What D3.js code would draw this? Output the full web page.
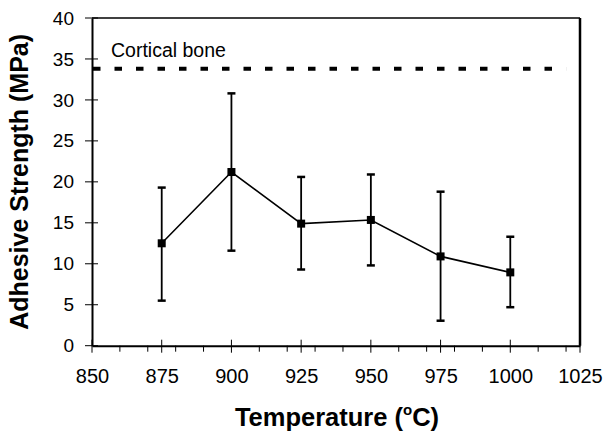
<!DOCTYPE html>
<html><head><meta charset="utf-8">
<script src="https://cdn.jsdelivr.net/npm/d3@7"></script>
<style>body{margin:0;background:#fff}svg{display:block}</style>
</head><body>
<svg id="c" width="605" height="436"></svg>
<script>
const temps = [875, 900, 925, 950, 975, 1000];
const strength = [12.5, 21.2, 14.9, 15.35, 10.9, 8.95];
const errHigh = [19.3, 30.8, 20.6, 20.9, 18.8, 13.3];
const errLow = [5.5, 11.6, 9.3, 9.8, 3.05, 4.7];
const xTicks = [850, 875, 900, 925, 950, 975, 1000, 1025];
const xMinor = d3.range(860, 1025, 10);
const yTicks = [0, 5, 10, 15, 20, 25, 30, 35, 40];
const corticalBone = 33.8;
const corticalLabel = "Cortical bone";
const xTitle = "Temperature (";
const yTitle = "Adhesive Strength (MPa)";

const svg = d3.select("#c");
const L = 92, R = 580, T = 18, B = 345.7;
const x = d3.scaleLinear().domain([850, 1025]).range([L, R]);
const y = d3.scaleLinear().domain([0, 40]).range([B, T]);
const font = "'Liberation Sans', Arial, Helvetica, sans-serif";

// frame
svg.append("line").attr("x1", L).attr("x2", R).attr("y1", T).attr("y2", T).attr("stroke", "#000").attr("stroke-width", 1.5);
svg.append("line").attr("x1", R).attr("x2", R).attr("y1", T).attr("y2", B).attr("stroke", "#000").attr("stroke-width", 2.5);

// y axis
const yAxis = d3.axisLeft(y).tickValues(yTicks).tickSize(0).tickPadding(18).tickFormat(d3.format("d"));
const yg = svg.append("g").attr("transform", `translate(${L},0)`).call(yAxis);
yg.select(".domain").attr("stroke", "#000").attr("stroke-width", 2);
yg.selectAll("text").attr("font-family", font).attr("font-size", 19).attr("fill", "#000");
svg.append("g").selectAll("line").data(yTicks).join("line")
  .attr("x1", L - 7).attr("x2", L + 6).attr("y1", d => y(d)).attr("y2", d => y(d))
  .attr("stroke", "#000").attr("stroke-width", 1);

// x axis
const xAxis = d3.axisBottom(x).tickValues(xTicks).tickSize(0).tickPadding(23).tickFormat(d3.format("d"));
const xg = svg.append("g").attr("transform", `translate(0,${B})`).call(xAxis);
xg.select(".domain").attr("stroke", "#000").attr("stroke-width", 2);
xg.selectAll("text").attr("font-family", font).attr("font-size", 20).attr("fill", "#000");
svg.append("g").selectAll("line").data(xTicks).join("line")
  .attr("x1", d => x(d)).attr("x2", d => x(d)).attr("y1", B - 6).attr("y2", B + 7)
  .attr("stroke", "#000").attr("stroke-width", 1);
svg.append("g").selectAll("line").data(xMinor.filter(v => v % 25 !== 0)).join("line")
  .attr("x1", d => x(d)).attr("x2", d => x(d)).attr("y1", B).attr("y2", B + 6)
  .attr("stroke", "#000").attr("stroke-width", 1);

// cortical bone reference
svg.append("line").attr("x1", L + 1).attr("x2", x(1020)).attr("y1", y(corticalBone)).attr("y2", y(corticalBone))
  .attr("stroke", "#000").attr("stroke-width", 4).attr("stroke-dasharray", "7.5,14");
svg.append("text").attr("x", 111).attr("y", 57).attr("font-family", font).attr("font-size", 19.5).text(corticalLabel);

// error bars
const eb = svg.append("g");
temps.forEach((t, i) => {
  eb.append("line").attr("x1", x(t)).attr("x2", x(t)).attr("y1", y(errHigh[i])).attr("y2", y(errLow[i]))
    .attr("stroke", "#000").attr("stroke-width", 1.8);
  [errHigh[i], errLow[i]].forEach(v => {
    eb.append("line").attr("x1", x(t) - 4).attr("x2", x(t) + 4).attr("y1", y(v)).attr("y2", y(v))
      .attr("stroke", "#000").attr("stroke-width", 2.5);
  });
});

// line
const pts = temps.map((t, i) => [t, strength[i]]);
svg.append("path").datum(pts)
  .attr("d", d3.line().x(d => x(d[0])).y(d => y(d[1])))
  .attr("fill", "none").attr("stroke", "#000").attr("stroke-width", 1.6);
svg.append("g").selectAll("rect").data(pts).join("rect")
  .attr("x", d => x(d[0]) - 4).attr("y", d => y(d[1]) - 4).attr("width", 8).attr("height", 8).attr("fill", "#000");

// titles
const xt = svg.append("text").attr("x", (L + R) / 2 + 1).attr("y", 426).attr("text-anchor", "middle")
  .attr("font-family", font).attr("font-weight", "bold").attr("font-size", 25.5);
xt.append("tspan").text(xTitle);
xt.append("tspan").attr("font-size", 15).attr("dy", -11).text("o");
xt.append("tspan").attr("dy", 11).text("C)");

svg.append("text").attr("transform", `translate(28,${(T + B) / 2}) rotate(-90)`).attr("text-anchor", "middle")
  .attr("font-family", font).attr("font-weight", "bold").attr("font-size", 25).text(yTitle);
</script>
</body></html>
